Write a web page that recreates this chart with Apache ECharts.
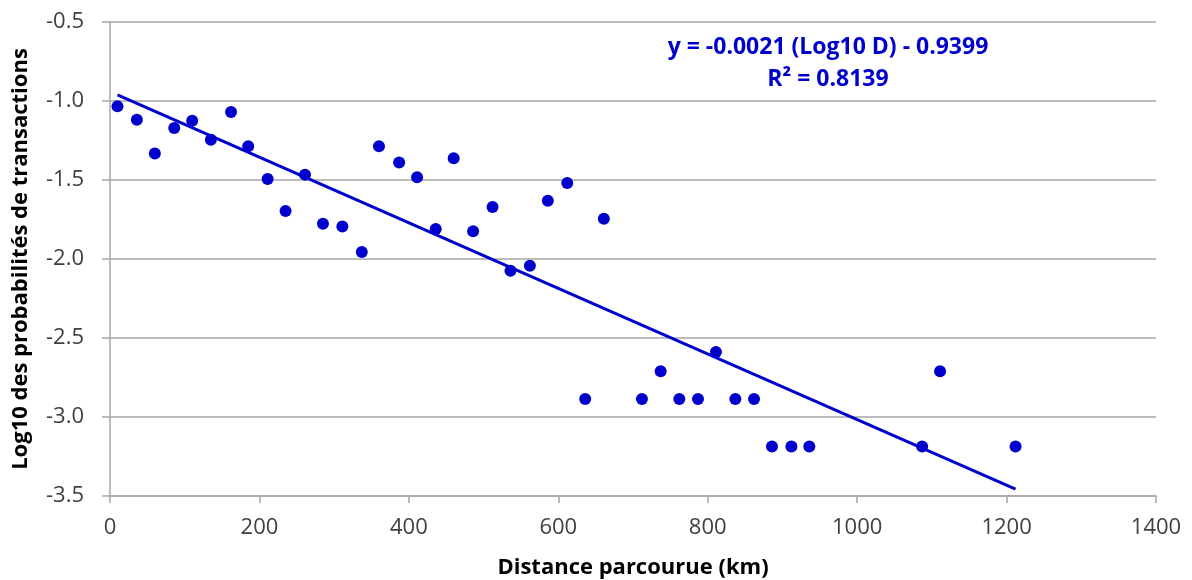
<!DOCTYPE html>
<html>
<head>
<meta charset="utf-8">
<script src="https://cdn.jsdelivr.net/npm/echarts@6/dist/echarts.min.js"></script>
<style>html,body{margin:0;padding:0;background:#fff;}#c{width:1192px;height:580px;}</style>
</head>
<body>
<div id="c"></div>
<script>
const distances = [10, 36, 60, 86, 110, 135, 162, 185, 211, 235, 261, 285, 311, 337, 360, 387, 411, 436, 460, 486, 512, 536, 562, 586, 612, 661, 636, 712, 737, 762, 787, 811, 837, 862, 886, 912, 936, 1087, 1111, 1212];
const logProb = [-1.034, -1.118, -1.332, -1.171, -1.125, -1.245, -1.070, -1.287, -1.494, -1.696, -1.466, -1.777, -1.794, -1.956, -1.287, -1.389, -1.483, -1.810, -1.363, -1.825, -1.671, -2.074, -2.042, -1.631, -1.519, -1.745, -2.886, -2.886, -2.711, -2.886, -2.886, -2.589, -2.886, -2.886, -3.186, -3.186, -3.186, -3.186, -2.711, -3.186];
const xTicks = { min: 0, max: 1400, interval: 200 };
const yTicks = { min: -3.5, max: -0.5, interval: 0.5 };
const equationText = 'y = -0.0021 (Log10 D) - 0.9399';
const r2Text = 'R² = 0.8139';
const xName = 'Distance parcourue (km)';
const yName = 'Log10 des probabilités de transactions';

// least-squares trend line from the points
const n = distances.length;
let sx = 0, sy = 0, sxx = 0, sxy = 0;
for (let i = 0; i < n; i++) { sx += distances[i]; sy += logProb[i]; sxx += distances[i]*distances[i]; sxy += distances[i]*logProb[i]; }
const slope = (n*sxy - sx*sy) / (n*sxx - sx*sx);
const intercept = (sy - slope*sx) / n;
const xMin = Math.min(...distances), xMax = Math.max(...distances);
const trend = [[xMin, slope*xMin + intercept], [xMax, slope*xMax + intercept]];

const blue = '#0000CC';
const font = 'Open Sans';
const chart = echarts.init(document.getElementById('c'), null, { renderer: 'canvas' });
chart.setOption({
  animation: false,
  backgroundColor: '#fff',
  grid: { left: 110, right: 36, top: 22, bottom: 84, containLabel: false, outerBoundsMode: 'none' },
  xAxis: {
    type: 'value', min: xTicks.min, max: xTicks.max, interval: xTicks.interval,
    name: xName, nameLocation: 'middle', nameGap: 61,
    nameTextStyle: { fontFamily: font, fontWeight: 'bold', fontSize: 22, color: '#000' },
    axisLine: { show: true, lineStyle: { color: '#A6A6A6', width: 1.5 } },
    axisTick: { show: true, length: 7, lineStyle: { color: '#A6A6A6', width: 1.5 } },
    axisLabel: { fontFamily: font, fontSize: 22, color: '#404040', margin: 21, formatter: v => String(v) },
    splitLine: { show: false }
  },
  yAxis: {
    type: 'value', min: yTicks.min, max: yTicks.max, interval: yTicks.interval,
    name: yName, nameLocation: 'middle', nameGap: 78,
    nameTextStyle: { fontFamily: font, fontWeight: 'bold', fontSize: 22, color: '#000' },
    axisLine: { show: true, lineStyle: { color: '#A6A6A6', width: 1.5 } },
    axisTick: { show: true, length: 8, lineStyle: { color: '#A6A6A6', width: 1.5 } },
    axisLabel: { fontFamily: font, fontSize: 22, color: '#404040', margin: 26, formatter: v => v.toFixed(1) },
    splitLine: { show: true, lineStyle: { color: '#A6A6A6', width: 1.5 } }
  },
  series: [
    {
      type: 'line', data: trend, symbol: 'none', z: 2,
      lineStyle: { color: blue, width: 3 }
    },
    {
      type: 'scatter', data: distances.map((d, i) => [d, logProb[i]]),
      symbol: 'circle', symbolSize: 12, z: 3,
      itemStyle: { color: blue, opacity: 1 }
    }
  ],
  graphic: [
    { type: 'text', x: 828, y: 47, style: { text: equationText, fontFamily: font, fontWeight: 'bold', fontSize: 23, fill: blue, align: 'center', verticalAlign: 'middle' } },
    { type: 'text', x: 828, y: 79, style: { text: r2Text, fontFamily: font, fontWeight: 'bold', fontSize: 23, fill: blue, align: 'center', verticalAlign: 'middle' } }
  ]
});
</script>
</body>
</html>
